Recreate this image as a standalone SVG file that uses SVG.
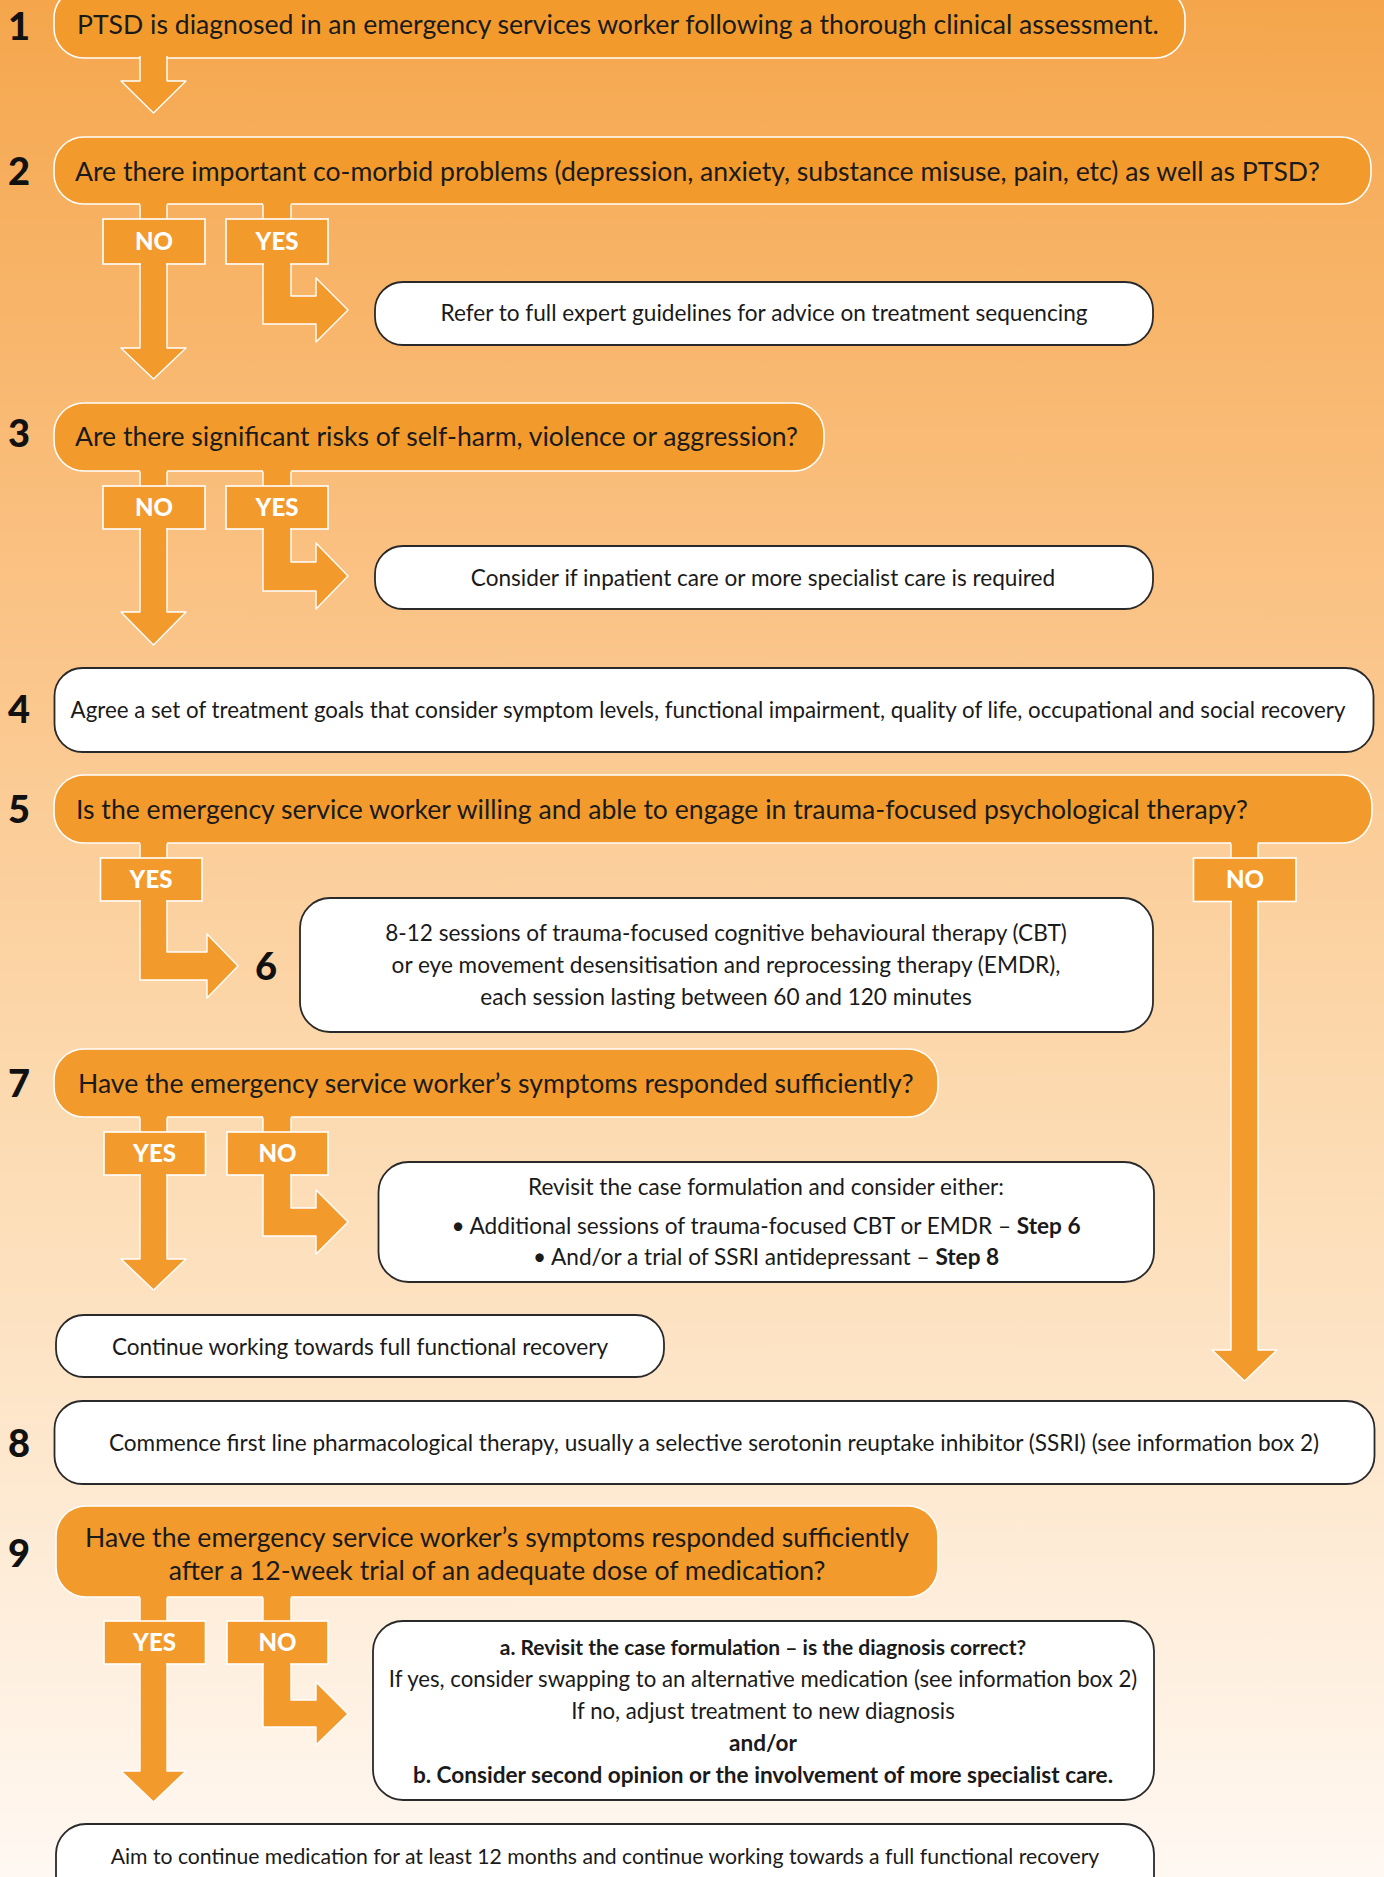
<svg xmlns="http://www.w3.org/2000/svg" width="1384" height="1877" viewBox="0 0 1384 1877">
<defs>
<linearGradient id="bg" x1="0" y1="0" x2="0" y2="1">
<stop offset="0" stop-color="#F5A64C"/>
<stop offset="0.3" stop-color="#FAC182"/>
<stop offset="0.59" stop-color="#FCDAB0"/>
<stop offset="1" stop-color="#FFF8F2"/>
</linearGradient>
<style>
.ob{fill:#F39A2D;stroke:#FFFFFF;stroke-width:1.6}
.wb{fill:#FFFFFF;stroke:#2a2a2a;stroke-width:1.8}
.ot{font-family:Lato,"Noto Sans",sans-serif;font-size:26.6px;fill:#1a1a1a}
.wt{font-family:Lato,"Noto Sans",sans-serif;font-size:22.6px;fill:#1a1a1a}
.num{font-family:Lato,"Noto Sans",sans-serif;font-size:38px;font-weight:900;fill:#111111}
.lb{fill:#F39A2D;stroke:#FFFFFF;stroke-width:1.6}
.lt{font-family:Lato,"Noto Sans",sans-serif;font-size:24px;font-weight:900;fill:#FFFFFF;text-anchor:middle}
.ar{fill:#F39A2D;stroke:#FFFFFF;stroke-width:1.4;stroke-linejoin:round}
.st{fill:#F39A2D}
.sl{stroke:#FFFFFF;stroke-width:1.4}
.c{text-anchor:middle}
.b{font-weight:700}
</style>
</defs>
<rect x="0" y="0" width="1384" height="1877" fill="url(#bg)"/>

<g id="node1">
<rect class="ob" x="54" y="-12" width="1131" height="70" rx="30"/>
<text class="num" x="8" y="40">1</text>
<text class="ot" x="77" y="34">PTSD is diagnosed in an emergency services worker following a thorough clinical assessment.</text>
</g>
<g id="node2">
<rect class="ob" x="54" y="137" width="1317" height="67" rx="30"/>
<text class="num" x="8" y="185">2</text>
<text class="ot" x="75" y="181">Are there important co-morbid problems (depression, anxiety, substance misuse, pain, etc) as well as PTSD?</text>
</g>
<g id="node2a">
<rect class="wb" x="375" y="282" width="778" height="63" rx="28"/>
<text class="wt c" x="764" y="321">Refer to full expert guidelines for advice on treatment sequencing</text>
</g>
<g id="node3">
<rect class="ob" x="54" y="403" width="770" height="68" rx="30"/>
<text class="num" x="8" y="447">3</text>
<text class="ot" x="75" y="446">Are there significant risks of self-harm, violence or aggression?</text>
</g>
<g id="node3a">
<rect class="wb" x="375" y="546" width="778" height="63" rx="28"/>
<text class="wt c" x="763" y="586">Consider if inpatient care or more specialist care is required</text>
</g>
<g id="node4">
<rect class="wb" x="54.5" y="668" width="1319" height="84" rx="28"/>
<text class="num" x="8" y="723">4</text>
<text class="wt c" x="708" y="718" style="font-size:22.3px">Agree a set of treatment goals that consider symptom levels, functional impairment, quality of life, occupational and social recovery</text>
</g>
<g id="node5">
<rect class="ob" x="54" y="775" width="1318" height="68" rx="30"/>
<text class="num" x="8" y="823">5</text>
<text class="ot" x="76" y="819">Is the emergency service worker willing and able to engage in trauma-focused psychological therapy?</text>
</g>
<g id="node6">
<rect class="wb" x="300" y="898" width="853" height="134" rx="30"/>
<text class="num" x="255" y="980">6</text>
<text class="wt c" x="726" y="941">8-12 sessions of trauma-focused cognitive behavioural therapy (CBT)</text>
<text class="wt c" x="726" y="973">or eye movement desensitisation and reprocessing therapy (EMDR),</text>
<text class="wt c" x="726" y="1005">each session lasting between 60 and 120 minutes</text>
</g>
<g id="node7">
<rect class="ob" x="54" y="1049" width="884" height="68" rx="30"/>
<text class="num" x="8" y="1097">7</text>
<text class="ot" x="78" y="1093">Have the emergency service worker’s symptoms responded sufficiently?</text>
</g>
<g id="node7a">
<rect class="wb" x="378.5" y="1162" width="775.5" height="120" rx="30"/>
<text class="wt c" x="766" y="1195">Revisit the case formulation and consider either:</text>
<text class="wt c" x="766" y="1234">•  Additional sessions of trauma-focused CBT or EMDR – <tspan class="b">Step 6</tspan></text>
<text class="wt c" x="766" y="1265">•  And/or a trial of SSRI antidepressant – <tspan class="b">Step 8</tspan></text>
</g>
<g id="node7b">
<rect class="wb" x="56" y="1315" width="608" height="62" rx="28"/>
<text class="wt c" x="360" y="1355">Continue working towards full functional recovery</text>
</g>
<g id="node8">
<rect class="wb" x="54.5" y="1401" width="1320" height="83" rx="28"/>
<text class="num" x="8" y="1457">8</text>
<text class="wt c" x="714" y="1451">Commence first line pharmacological therapy, usually a selective serotonin reuptake inhibitor (SSRI) (see information box 2)</text>
</g>
<g id="node9">
<rect class="ob" x="56" y="1506" width="882" height="91" rx="30"/>
<text class="num" x="8" y="1567">9</text>
<text class="ot c" x="497" y="1547">Have the emergency service worker’s symptoms responded sufficiently</text>
<text class="ot c" x="497" y="1580">after a 12-week trial of an adequate dose of medication?</text>
</g>
<g id="node9a">
<rect class="wb" x="373" y="1621" width="781" height="179" rx="30"/>
<text class="wt c b" x="763" y="1655" style="font-size:21px">a. Revisit the case formulation – is the diagnosis correct?</text>
<text class="wt c" x="763" y="1687" style="font-size:22.2px">If yes, consider swapping to an alternative medication (see information box 2)</text>
<text class="wt c" x="763" y="1719" style="font-size:22.2px">If no, adjust treatment to new diagnosis</text>
<text class="wt c b" x="763" y="1751">and/or</text>
<text class="wt c b" x="763" y="1783">b. Consider second opinion or the involvement of more specialist care.</text>
</g>
<g id="node9b">
<rect class="wb" x="56" y="1824" width="1098" height="90" rx="30"/>
<text class="wt c" x="605" y="1864" style="font-size:21.2px">Aim to continue medication for at least 12 months and continue working towards a full functional recovery</text>
</g>

<g id="connectors">
<path class="ar" d="M140,56 V81 H121 L153.5,113 L186,81 H167 V56"/>
<rect class="st" x="140" y="202" width="27" height="18"/>
<rect class="st" x="263" y="202" width="28" height="18"/>
<path class="sl" d="M140,204.5 V219 M167,204.5 V219 M263,204.5 V219 M291,204.5 V219"/>
<path class="ar" d="M140,263 V348 H121 L153.5,379 L186,348 H167 V263"/>
<path class="ar" d="M263,263 V324 H316 V342 L348,310 L316,278 V296 H291 V263"/>
<g class="label"><rect class="lb" x="103" y="219" width="102" height="45"/><text class="lt" x="154" y="250">NO</text></g>
<g class="label"><rect class="lb" x="226" y="219" width="102" height="45"/><text class="lt" x="277" y="250">YES</text></g>
<rect class="st" x="141" y="262" width="25" height="3"/>
<rect class="st" x="264" y="262" width="26" height="3"/>

<rect class="st" x="140" y="469" width="27" height="18"/>
<rect class="st" x="263" y="469" width="28" height="18"/>
<path class="sl" d="M140,471.5 V486 M167,471.5 V486 M263,471.5 V486 M291,471.5 V486"/>
<path class="ar" d="M140,528 V612 H121 L153.5,645 L186,612 H167 V528"/>
<path class="ar" d="M263,528 V591 H316 V609 L348,576 L316,543 V562 H291 V528"/>
<g class="label"><rect class="lb" x="103" y="486" width="102" height="43"/><text class="lt" x="154" y="516">NO</text></g>
<g class="label"><rect class="lb" x="226" y="486" width="102" height="43"/><text class="lt" x="277" y="516">YES</text></g>
<rect class="st" x="141" y="527" width="25" height="3"/>
<rect class="st" x="264" y="527" width="26" height="3"/>

<rect class="st" x="140" y="841" width="27" height="18"/>
<rect class="st" x="1231" y="841" width="27" height="18"/>
<path class="sl" d="M140,843.5 V858 M167,843.5 V858 M1231,843.5 V858 M1258,843.5 V858"/>
<path class="ar" d="M140,900 V980 H207 V998 L238,966 L207,934 V952 H167 V900"/>
<path class="ar" d="M1231,901 V1350 H1212 L1244.5,1381 L1277,1350 H1258 V901"/>
<g class="label"><rect class="lb" x="100.5" y="858" width="101.5" height="43"/><text class="lt" x="151" y="888">YES</text></g>
<g class="label"><rect class="lb" x="1193.5" y="858" width="102.5" height="43.5"/><text class="lt" x="1245" y="888">NO</text></g>
<rect class="st" x="141" y="899.5" width="25" height="3"/>
<rect class="st" x="1232" y="900" width="25" height="3"/>

<rect class="st" x="140" y="1115" width="27" height="18"/>
<rect class="st" x="263" y="1115" width="28" height="18"/>
<path class="sl" d="M140,1117.5 V1132 M167,1117.5 V1132 M263,1117.5 V1132 M291,1117.5 V1132"/>
<path class="ar" d="M140,1174 V1259 H121 L153.5,1290 L186,1259 H167 V1174"/>
<path class="ar" d="M263,1174 V1236 H316 V1254 L348,1222 L316,1190 V1208 H291 V1174"/>
<g class="label"><rect class="lb" x="104" y="1132" width="101.5" height="43"/><text class="lt" x="154.5" y="1162">YES</text></g>
<g class="label"><rect class="lb" x="227" y="1132" width="101" height="43"/><text class="lt" x="277.5" y="1162">NO</text></g>
<rect class="st" x="141" y="1173" width="25" height="3"/>
<rect class="st" x="264" y="1173" width="26" height="3"/>

<rect class="st" x="140" y="1595" width="27" height="27"/>
<rect class="st" x="263" y="1595" width="28" height="27"/>
<path class="sl" d="M140,1597.5 V1621 M167,1597.5 V1621 M263,1597.5 V1621 M291,1597.5 V1621"/>
<path class="ar" d="M140,1663 V1771 H121 L153.5,1802 L186,1771 H167 V1663"/>
<path class="ar" d="M263,1663 V1727 H316 V1745 L348,1714 L316,1682 V1700 H291 V1663"/>
<g class="label"><rect class="lb" x="104" y="1621" width="101.5" height="43"/><text class="lt" x="154.5" y="1651">YES</text></g>
<g class="label"><rect class="lb" x="227" y="1621" width="101" height="43"/><text class="lt" x="277.5" y="1651">NO</text></g>
<rect class="st" x="141" y="1662" width="25" height="3"/>
<rect class="st" x="264" y="1662" width="26" height="3"/>
</g>
</svg>
